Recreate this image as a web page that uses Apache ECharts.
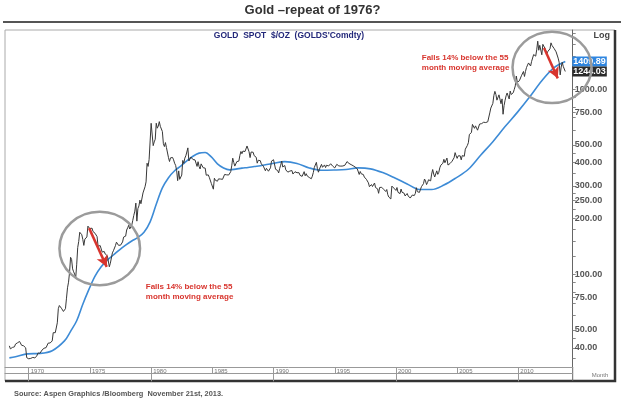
<!DOCTYPE html>
<html><head><meta charset="utf-8">
<script src="https://cdn.jsdelivr.net/npm/echarts@6/dist/echarts.min.js"></script>
<style>html,body{margin:0;padding:0;background:#fff}#c{width:625px;height:408px}</style>
</head><body><div id="c"></div>
<script>
const titleText = 'Gold \u2013repeat of 1976?';
const innerTitle = "GOLD  SPOT  $/OZ  (GOLDS'Comdty)";
const sourceText = 'Source: Aspen Graphics /Bloomberg  November 21st, 2013.';
const noteText = 'Falls 14% below the 55\nmonth moving average';
const axisUnitText = 'Log';
const axisTimeText = 'Month';

// monthly gold closes, starting June 1968
const firstYear = 1968, firstMonth = 6;
const goldClose = [
  41.0, 39.5, 39.3, 40.2, 39.3, 40.5, 41.9,
  42.5, 42.6, 43.3, 43.3, 43.5, 41.3, 42.3, 41.0, 40.8, 40.0, 35.4, 35.2,
  34.9, 35.0, 35.1, 35.6, 35.5, 35.4, 35.3, 35.4, 36.2, 37.5, 37.4, 37.4,
  38.0, 38.9, 38.9, 39.8, 40.6, 40.1, 41.0, 42.4, 42.2, 42.5, 42.9, 43.6,
  48.3, 48.3, 48.3, 49.0, 54.6, 65.1, 67.7, 67.0, 65.5, 64.9, 62.9, 63.9,
  65.1, 74.2, 84.4, 90.5, 102.0, 123.3, 120.2, 106.8, 103.0, 100.1, 94.9, 112.3,
  139.3, 150.3, 168.4, 172.2, 163.3, 154.1, 143.0, 154.6, 151.8, 158.8, 181.7, 183.8,
  175.8, 179.6, 177.3, 170.0, 167.0, 166.3, 166.7, 159.5, 141.3, 142.9, 142.8, 139.3,
  131.6, 131.1, 132.6, 128.4, 126.6, 125.7, 117.8, 109.6, 114.6, 116.4, 130.3, 133.8,
  132.3, 142.6, 148.9, 148.0, 143.2, 143.0, 143.4, 145.0, 149.3, 158.6, 162.4, 160.5,
  173.2, 178.1, 183.7, 175.4, 176.0, 184.0, 195.4, 207.8, 219.0, 242.0, 193.4, 226.0,
  233.7, 251.3, 240.1, 245.3, 274.6, 277.5, 296.5, 315.1, 397.3, 382.0, 415.7, 524.0,
  653.0, 637.0, 494.5, 518.0, 535.5, 653.5, 614.3, 631.3, 666.8, 629.0, 619.8, 589.8,
  506.5, 489.0, 513.8, 482.8, 479.3, 426.0, 406.0, 425.0, 428.8, 427.0, 414.5, 397.5,
  387.0, 362.6, 320.0, 361.3, 325.3, 317.5, 342.9, 411.5, 397.0, 423.3, 436.0, 456.9,
  481.0, 408.5, 414.8, 429.3, 437.5, 416.0, 422.0, 414.3, 405.0, 382.0, 405.0, 381.5,
  370.0, 394.3, 388.5, 375.8, 384.3, 373.8, 342.4, 348.3, 343.8, 333.5, 329.0, 309.0,
  306.7, 287.8, 329.8, 321.4, 314.0, 317.8, 327.0, 333.3, 326.5, 325.1, 325.3, 326.8,
  345.5, 338.8, 344.0, 345.8, 343.2, 345.5, 357.5, 384.7, 423.2, 401.0, 383.5, 390.9,
  405.5, 405.9, 408.0, 438.3, 460.0, 447.3, 462.5, 453.4, 459.5, 466.0, 492.5, 484.1,
  458.0, 426.2, 457.0, 449.0, 455.5, 436.6, 437.6, 427.8, 397.7, 412.4, 422.6, 410.3,
  394.0, 387.0, 383.2, 377.6, 361.8, 373.0, 368.3, 359.8, 366.5, 375.3, 408.2, 398.6,
  415.1, 407.7, 368.5, 367.8, 363.1, 352.2, 372.3, 387.8, 408.4, 379.5, 384.9, 386.2,
  366.0, 362.7, 355.7, 357.8, 360.4, 368.4, 362.9, 347.4, 354.9, 357.5, 366.3, 353.2,
  354.1, 353.1, 341.7, 336.4, 337.5, 343.4, 357.9, 340.0, 349.0, 339.3, 334.2, 332.9,
  330.5, 327.6, 337.8, 354.3, 377.5, 378.5, 401.8, 371.6, 355.5, 369.6, 370.9, 391.8,
  377.9, 381.6, 389.2, 376.5, 387.6, 388.3, 384.0, 385.8, 394.9, 389.7, 383.1, 383.3,
  374.9, 376.4, 392.0, 389.8, 384.3, 387.1, 383.4, 382.4, 384.0, 382.7, 387.8, 387.0,
  405.6, 400.7, 396.4, 391.3, 390.6, 382.0, 385.3, 386.5, 379.0, 379.5, 371.3, 369.3,
  345.5, 358.6, 348.2, 340.2, 345.6, 334.6, 326.4, 325.4, 332.1, 311.4, 296.8, 290.2,
  304.9, 297.4, 301.0, 310.7, 293.6, 296.3, 288.9, 273.4, 293.9, 292.3, 294.7, 287.8,
  287.1, 287.3, 279.5, 286.6, 268.6, 261.0, 255.6, 254.8, 299.0, 299.1, 291.4, 290.3,
  283.3, 293.7, 276.8, 275.1, 272.3, 288.2, 276.8, 277.0, 273.7, 264.5, 269.1, 272.7,
  264.5, 266.7, 257.7, 263.2, 267.5, 270.6, 265.9, 273.0, 293.1, 279.0, 275.5, 276.5,
  282.3, 296.9, 301.4, 308.2, 326.6, 318.5, 304.7, 312.8, 323.7, 316.9, 319.1, 347.2,
  367.5, 347.5, 334.9, 336.8, 361.4, 346.0, 354.8, 375.6, 388.0, 386.3, 397.2, 417.3,
  399.8, 395.9, 423.7, 388.5, 393.3, 395.8, 391.4, 407.3, 415.7, 425.6, 453.4, 435.6,
  422.2, 435.5, 427.5, 435.7, 414.5, 437.1, 429.0, 433.3, 473.3, 470.8, 495.7, 513.0,
  568.8, 556.0, 582.0, 644.0, 653.0, 613.5, 632.5, 623.5, 599.3, 603.8, 646.7, 632.0,
  650.5, 664.2, 661.8, 677.0, 659.1, 650.5, 665.5, 672.0, 743.0, 789.5, 783.5, 836.5,
  923.3, 971.5, 933.5, 871.0, 885.8, 930.3, 918.0, 833.0, 884.5, 730.8, 814.5, 869.8,
  919.5, 952.0, 916.5, 883.3, 975.5, 934.5, 955.5, 955.5, 995.8, 1040.0, 1175.8, 1087.5,
  1078.5, 1108.3, 1115.5, 1179.3, 1207.5, 1244.0, 1169.0, 1246.0, 1307.0, 1346.8, 1383.5, 1405.5,
  1332.0, 1411.0, 1439.0, 1535.5, 1536.5, 1505.5, 1628.5, 1813.5, 1620.0, 1722.0, 1746.0, 1531.0,
  1744.0, 1711.0, 1662.5, 1651.3, 1558.0, 1598.5, 1622.0, 1648.5, 1776.0, 1719.0, 1726.0, 1657.5,
  1664.8, 1588.5, 1598.3, 1469.0, 1394.5, 1192.0, 1314.5, 1394.8, 1326.5, 1324.0, 1244.03
];

// 55-month moving average, read at half-year / year-end points
const maMonth = [
  '1968-06','1968-12','1969-12','1970-12','1971-12','1972-12','1973-06','1973-12',
  '1974-06','1974-12','1975-06','1975-12','1976-06','1976-12','1977-06','1977-12',
  '1978-06','1978-12','1979-06','1979-12','1980-06','1980-12','1981-06','1981-12',
  '1982-06','1982-12','1983-06','1983-12','1984-06','1984-12','1985-06','1985-12',
  '1986-06','1986-12','1987-06','1987-12','1988-06','1988-12','1989-12','1990-12',
  '1991-12','1992-12','1993-12','1994-12','1995-12','1996-12','1997-12','1998-12',
  '1999-12','2000-12','2001-12','2002-12','2003-12','2004-12','2005-12','2006-12',
  '2007-12','2008-12','2009-12','2010-12','2011-12','2012-12','2013-11'
];
const maValue = [
  35.3, 35.8, 37.1, 37.3, 38.6, 43.6, 49.1, 56.0,
  68.8, 82.7, 97.6, 109.6, 119.1, 126.9, 135.4, 143.4,
  151.1, 157.9, 168.4, 191.7, 238.4, 292.3, 332.0, 362.0,
  383.3, 409.1, 433.6, 450.6, 454.3, 429.7, 394.4, 374.5,
  366.0, 369.5, 373.8, 377.2, 381.5, 385.4, 395.9, 405.3,
  396.5, 374.9, 364.4, 365.3, 367.6, 374.9, 370.5, 353.6,
  330.7, 307.1, 286.9, 286.4, 302.9, 331.4, 368.6, 438.8,
  519.5, 626.9, 748.0, 904.8, 1109.0, 1305.0, 1409.89
];

const yLabelValues = [40, 50, 75, 100, 200, 250, 300, 400, 500, 750, 1000];
const yTickValues = [35,40,45,50,60,70,75,80,90,100,125,150,175,200,225,250,275,300,350,400,450,500,600,700,750,800,900,1000,1250,1500,1750,2000];
const xLabelYears = [1970, 1975, 1980, 1985, 1990, 1995, 2000, 2005, 2010];
const xDecadeYears = [1970, 1980, 1990, 2000, 2010];

// annotations (data coordinates)
const circles = [
  {center: [1975.80, 137.7], rx: 40.3, ry: 36.7},
  {center: [2012.75, 1310], rx: 39.5, ry: 35.7}
];
const arrows = [
  [[1974.93, 177.3], [1976.37, 109.5]],
  [[2012.10, 1666], [2013.22, 1142]]
];
const notes = [[1979.56, 90.5], [2002.11, 1565]];

const toYear = s => { const p = s.split('-'); return +p[0] + (+p[1] - 1) / 12; };
const goldData = goldClose.map((v, i) => [firstYear + (firstMonth - 1 + i) / 12, v]);
const maData = maMonth.map((m, i) => [toYear(m), maValue[i]]);

const FONT = '"Liberation Sans", Arial, sans-serif';
const RED = '#d8352e';
const chart = echarts.init(document.getElementById('c'), null, {renderer: 'canvas'});
const xMin = 1968.06, xMax = 2014.44;
const xCommon = {type: 'value', min: xMin, max: xMax, gridIndex: 0, splitLine: {show: false}};

chart.setOption({
  animation: false,
  backgroundColor: '#fff',
  grid: {left: 5, right: 52.3, top: 30, bottom: 40.7, containLabel: false},
  xAxis: [
    Object.assign({}, xCommon, {
      position: 'bottom',
      axisLine: {show: true, lineStyle: {color: '#999', width: 1}},
      axisTick: {show: true, customValues: xLabelYears, length: 6, inside: false, lineStyle: {color: '#999'}},
      axisLabel: {show: true, customValues: xLabelYears, formatter: v => String(Math.round(v)),
        fontSize: 6, color: '#777', fontFamily: FONT, align: 'left', verticalAlign: 'top', margin: 1, padding: [0, 0, 0, 2]}
    }),
    Object.assign({}, xCommon, {
      position: 'bottom',
      axisLine: {show: false},
      axisTick: {show: true, customValues: xDecadeYears, length: 14, inside: false, lineStyle: {color: '#999'}},
      axisLabel: {show: false}
    }),
    Object.assign({}, xCommon, {
      position: 'bottom', offset: 6,
      axisLine: {show: true, lineStyle: {color: '#999'}},
      axisTick: {show: false}, axisLabel: {show: false}
    })
  ],
  yAxis: {
    type: 'log', logBase: 10, min: 31.4, max: 2084, position: 'right',
    splitLine: {show: false},
    axisLine: {show: true, lineStyle: {color: '#666', width: 1}},
    axisTick: {show: true, customValues: yTickValues, length: 3, inside: false, lineStyle: {color: '#888'}},
    axisLabel: {show: true, customValues: yLabelValues, formatter: v => Number(v).toFixed(2),
      fontSize: 9, fontWeight: 'bold', color: '#555', fontFamily: FONT, margin: 2}
  },
  series: [
    {
      name: 'Gold', type: 'line', data: goldData, showSymbol: false, symbol: 'none',
      lineStyle: {color: '#383838', width: 1}, z: 3,
      endLabel: {show: true, formatter: p => p.value[1].toFixed(2), backgroundColor: '#2b2b2b', color: '#fff',
        fontSize: 9, fontWeight: 'bold', fontFamily: FONT, padding: [1, 1, 0, 1], distance: 7},
      markLine: {
        silent: true, symbol: ['none', 'arrow'], symbolSize: [9, 11],
        lineStyle: {color: RED, width: 2.5, type: 'solid'}, label: {show: false},
        data: arrows.map(a => [{coord: a[0]}, {coord: a[1]}])
      }
    },
    {
      name: 'MA55', type: 'line', data: maData, showSymbol: false, symbol: 'none', smooth: 0.35,
      lineStyle: {color: '#3d8bd6', width: 1.6}, z: 2,
      endLabel: {show: true, formatter: p => p.value[1].toFixed(2), backgroundColor: '#2f86e0', color: '#fff',
        fontSize: 9, fontWeight: 'bold', fontFamily: FONT, padding: [1, 1, 0, 1], distance: 7}
    }
  ]
});

const px = c => chart.convertToPixel({gridIndex: 0}, c);
const graphics = [
  {type: 'text', left: 'center', top: 4, style: {text: titleText, font: 'bold 13px ' + FONT, fill: '#333'}},
  {type: 'line', shape: {x1: 3, y1: 22, x2: 621, y2: 22}, style: {stroke: '#555', lineWidth: 2}},
  {type: 'polyline', shape: {points: [[5, 381], [5, 30], [615, 30]]}, style: {stroke: '#aaa', lineWidth: 1, fill: null}},
  {type: 'polyline', shape: {points: [[615, 30], [615, 381], [5, 381]]}, style: {stroke: '#333', lineWidth: 2.5, fill: null}},
  {type: 'line', shape: {x1: 572.7, y1: 367, x2: 572.7, y2: 381}, style: {stroke: '#666', lineWidth: 1}},
  {type: 'text', x: 289, y: 36, style: {text: innerTitle, font: 'bold 8.5px ' + FONT, fill: '#23287a', align: 'center', verticalAlign: 'middle'}},
  {type: 'text', x: 610, y: 36, style: {text: axisUnitText, font: 'bold 9px ' + FONT, fill: '#444', align: 'right', verticalAlign: 'middle'}},
  {type: 'text', x: 600, y: 375, style: {text: axisTimeText, font: '6px ' + FONT, fill: '#777', align: 'center', verticalAlign: 'middle'}},
  {type: 'text', x: 14, y: 394, style: {text: sourceText, font: 'bold 7.4px ' + FONT, fill: '#555', align: 'left', verticalAlign: 'middle'}}
];
circles.forEach(c => {
  const p = px(c.center);
  graphics.push({type: 'ellipse', shape: {cx: p[0], cy: p[1], rx: c.rx, ry: c.ry},
    style: {fill: null, stroke: '#9b9b9b', lineWidth: 2.5}, z: 10});
});
notes.forEach(n => {
  const p = px(n);
  graphics.push({type: 'text', x: p[0], y: p[1], style: {text: noteText, font: 'bold 8px ' + FONT, fill: RED,
    align: 'left', verticalAlign: 'top', lineHeight: 10}, z: 10});
});
chart.setOption({graphic: graphics});
</script></body></html>
